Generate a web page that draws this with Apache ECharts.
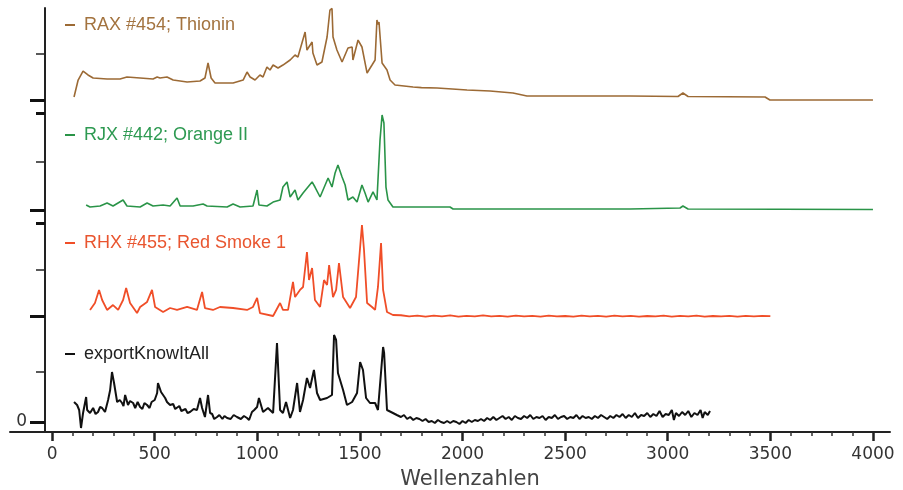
<!DOCTYPE html>
<html><head><meta charset="utf-8">
<script src="https://cdn.jsdelivr.net/npm/echarts@6/dist/echarts.min.js"></script>
<style>html,body{margin:0;padding:0;background:#fff}#c{width:903px;height:490px}</style>
</head><body><div id="c"></div>
<script>
// ---- data ----
const xTickValues = [0, 500, 1000, 1500, 2000, 2500, 3000, 3500, 4000];
const xMinorTickValues = [];
for (let v = 100; v < 4000; v += 100) { if (v % 500 !== 0) xMinorTickValues.push(v); }
const seriesNames = ['RAX #454; Thionin', 'RJX #442; Orange II', 'RHX #455; Red Smoke 1', 'exportKnowItAll'];
const yTickMid = [50];
const yTickBase = [0];
const yTickTop = [100];

const raxThionin = [[107,3.3],[127,21.7],[151,31.5],[175,27.2],[200,23.9],[268,22.8],[331,22.8],[365,25],[429,23.9],[492,22.8],[512,25],[526,23.9],[560,25],[590,21.7],[658,19.6],[721,20.7],[745,23.9],[760,40.2],[775,23.9],[794,18.5],[882,18.5],[931,21.7],[950,30.4],[965,25],[989,21.7],[1013,27.2],[1028,25],[1047,35.9],[1062,32.6],[1077,38],[1101,34.8],[1125,38],[1160,43.5],[1184,48.9],[1198,46.7],[1233,73.9],[1242,54.3],[1267,63],[1271,51.1],[1291,38],[1315,41.3],[1340,68.5],[1354,97.8],[1364,99.5],[1369,68.5],[1388,54.3],[1413,41.3],[1442,56.5],[1462,57.6],[1466,43.5],[1491,65.2],[1510,57.6],[1535,29.3],[1559,38],[1574,43.5],[1583,87],[1588,82],[1593,84.8],[1608,40.2],[1632,32.6],[1647,21.7],[1671,16.3],[1759,14.1],[1800,13.5],[1876,13],[1950,12],[2022,10.9],[2134,9.8],[2246,7.6],[2314,4.3],[2600,4.3],[2816,4.3],[3050,3.8],[3074,7.6],[3099,3.8],[3474,3.3],[3498,0],[4000,0]];

const rjxOrange = [[166,5.2],[185,3.1],[234,4.1],[268,7.2],[297,4.1],[346,10.3],[365,4.1],[429,3.1],[463,7.2],[492,4.1],[541,5.2],[575,4.1],[609,12.4],[624,4.1],[687,4.1],[736,6.2],[755,4.1],[853,3.1],[882,6.2],[916,3.1],[979,4.1],[999,20.6],[1008,5.2],[1047,4.1],[1077,8.2],[1111,10.3],[1125,23.7],[1145,28.9],[1160,13.4],[1184,20.6],[1198,10.3],[1223,17.5],[1267,28.9],[1281,23.7],[1306,13.4],[1345,33],[1364,23.7],[1379,38.1],[1393,46.4],[1413,34],[1428,25.8],[1442,10.3],[1466,13.4],[1486,8.2],[1510,25.8],[1525,17.5],[1540,8.2],[1564,18.6],[1583,10.3],[1598,72.2],[1608,97.9],[1617,89.7],[1627,23.7],[1637,10.3],[1661,3.1],[1939,3.1],[1954,1],[2816,1],[3060,2.1],[3074,4.1],[3099,1],[4000,0.5]];

const rhxRedSmoke = [[185,6.5],[209,14],[229,28],[244,17.2],[268,6.5],[297,11.8],[322,6.5],[346,17.2],[361,30.1],[380,14],[414,3.2],[429,9.7],[463,15.1],[487,28],[502,9.7],[541,4.3],[575,8.6],[609,6.5],[658,9.7],[706,6.5],[731,25.8],[745,8.6],[784,6.5],[818,9.7],[882,8.6],[950,6.5],[979,9.7],[999,19.4],[1013,3.2],[1077,0],[1111,14],[1125,6.5],[1150,6.5],[1174,36.6],[1184,20.4],[1208,28],[1223,31.2],[1242,68.8],[1252,38.7],[1267,51.6],[1281,17.2],[1306,9.7],[1325,38.7],[1340,33.3],[1350,54.8],[1369,20.4],[1384,28],[1398,57],[1418,20.4],[1452,8.6],[1481,20.4],[1510,97.8],[1520,71],[1535,14],[1559,9.7],[1574,6.5],[1588,31.2],[1603,78.5],[1613,28],[1632,4.3],[1661,1.1],[1700,0.8],[1740,-0.4],[1780,0.5],[1820,-0.6],[1860,0.3],[1900,-0.5],[1940,0.6],[1980,-0.7],[2020,0.2],[2060,-0.4],[2100,0.7],[2140,-0.5],[2180,0.1],[2220,-0.7],[2260,0.4],[2300,-0.4],[2340,0.2],[2380,-0.6],[2420,0.5],[2460,-0.5],[2500,0],[2540,-0.7],[2580,0.3],[2620,-0.4],[2660,0.1],[2700,-0.6],[2740,0.4],[2780,-0.5],[2820,0.2],[2860,-0.7],[2900,0],[2940,-0.5],[2980,0.3],[3020,-0.6],[3060,0.1],[3100,-0.4],[3140,0.4],[3180,-0.7],[3220,0],[3260,-0.5],[3300,0.2],[3340,-0.6],[3380,0.1],[3420,-0.4],[3460,0.2],[3500,-0.2]];

const exportKnowItAll = [[107,20],[122,17],[132,12],[141,-6],[151,9],[166,25],[171,12],[185,9],[200,14],[212,8],[224,10],[234,15],[244,14],[258,10],[273,22],[283,32],[292,50],[302,39],[317,20],[330,22],[341,19],[348,16],[356,27],[370,17],[380,21],[395,19],[405,14],[417,20],[429,15],[440,13],[450,19],[463,17],[475,14],[485,20],[492,19],[500,22],[512,29],[516,39],[531,30],[551,24],[560,20],[575,17],[590,18],[600,13],[609,15],[620,16],[630,11],[638,12],[650,13],[660,9],[672,10],[690,13],[706,12],[721,24],[731,14],[745,5],[760,27],[770,9],[780,8],[790,3],[804,5],[815,7],[830,3],[840,6],[853,4],[870,3],[885,7],[901,5],[920,3],[935,6],[950,4],[960,2],[974,10],[985,12],[999,15],[1008,24],[1028,10],[1052,14],[1077,9],[1096,79],[1111,12],[1125,9],[1140,20],[1160,4],[1174,12],[1194,39],[1208,10],[1223,22],[1242,44],[1257,34],[1276,52],[1291,29],[1306,22],[1340,24],[1364,27],[1374,87],[1384,82],[1393,49],[1418,32],[1437,17],[1462,20],[1486,29],[1501,60],[1515,52],[1530,24],[1549,19],[1574,19],[1588,12],[1613,75],[1618,69],[1632,12],[1661,9],[1680,7],[1700,5],[1715,7],[1730,3],[1745,5],[1760,2],[1775,4],[1790,3],[1805,1],[1820,3],[1835,0],[1850,1],[1865,-1],[1880,2],[1895,0],[1910,-1],[1925,1],[1940,-1],[1955,1],[1970,0],[1985,-2],[2000,1],[2015,-1],[2030,2],[2045,0],[2060,2],[2075,1],[2090,3],[2105,1],[2120,4],[2135,2],[2150,5],[2165,2],[2180,4],[2195,6],[2210,3],[2225,5],[2240,2],[2255,6],[2270,4],[2285,3],[2300,6],[2315,4],[2330,7],[2345,3],[2360,5],[2375,4],[2390,6],[2405,2],[2420,5],[2435,4],[2450,7],[2465,3],[2480,5],[2495,6],[2510,3],[2525,5],[2540,4],[2555,7],[2570,3],[2585,6],[2600,4],[2615,5],[2630,3],[2645,6],[2660,4],[2675,7],[2690,5],[2705,3],[2720,6],[2735,4],[2750,7],[2765,5],[2780,8],[2795,4],[2810,7],[2825,5],[2840,9],[2855,4],[2870,7],[2885,6],[2900,9],[2915,5],[2930,8],[2945,6],[2960,11],[2975,5],[2990,8],[3005,7],[3020,12],[3030,2],[3040,9],[3055,6],[3070,10],[3085,7],[3100,11],[3115,5],[3130,9],[3145,7],[3160,12],[3170,4],[3180,10],[3195,7],[3206,11]];

// ---- styling / layout ----
const lineColors = ['#9c6a35', '#2a9448', '#f04e28', '#111111'];
const textColors = ['#a3733f', '#2e9a52', '#e9552f', '#222222'];
const lineWidths = [1.6, 1.6, 1.8, 2];
const gridTops = [8, 113, 223, 322];
const gridHeights = [105, 110, 99, 110];
const yMins = [-14.13, -13.4, -6.45, -10];
const legendTops = [15, 125, 233, 344];
const allData = [raxThionin, rjxOrange, rhxRedSmoke, exportKnowItAll];
const X_MIN = -205, X_MAX = 4083;

const grid = gridTops.map((t, i) => ({ left: 10, right: 13, top: t, height: gridHeights[i], containLabel: false, outerBoundsMode: 'none' }));

const xAxis = [];
for (let i = 0; i < 4; i++) {
  xAxis.push({
    gridIndex: i, type: 'value', min: X_MIN, max: X_MAX, position: 'bottom',
    show: i === 3,
    axisLine: { show: i === 3, onZero: false, lineStyle: { color: '#222', width: 2 } },
    axisTick: { show: i === 3, customValues: xTickValues, length: 9, lineStyle: { color: '#222', width: 2.5 } },
    axisLabel: { show: i === 3, customValues: xTickValues, formatter: v => String(v), margin: 13, fontSize: 17, fontFamily: 'DejaVu Sans', color: '#333', lineHeight: 20 },
    splitLine: { show: false },
    name: i === 3 ? 'Wellenzahlen' : '',
    nameLocation: 'middle', nameGap: 37,
    nameTextStyle: { fontSize: 21, fontFamily: 'DejaVu Sans', color: '#444', padding: [0, 0, 0, 40] }
  });
}
xAxis.push({
  gridIndex: 3, type: 'value', min: X_MIN, max: X_MAX, position: 'bottom',
  axisLine: { show: false, onZero: false },
  axisTick: { show: true, customValues: xMinorTickValues, length: 4, lineStyle: { color: '#333', width: 1.5 } },
  axisLabel: { show: false, customValues: xMinorTickValues },
  splitLine: { show: false }
});

const yAxis = [];
const mainY = [];
for (let i = 0; i < 4; i++) {
  mainY.push(yAxis.length);
  yAxis.push({
    gridIndex: i, type: 'value', position: 'left', offset: -35, min: yMins[i], max: 100,
    axisLine: { show: true, onZero: false, lineStyle: { color: '#222', width: 2 } },
    axisTick: { show: true, customValues: yTickMid, length: 9, lineStyle: { color: '#222', width: 1.5 } },
    axisLabel: { show: false, customValues: yTickMid },
    splitLine: { show: false }
  });
  yAxis.push({
    gridIndex: i, type: 'value', position: 'left', offset: -35, min: yMins[i], max: 100,
    axisLine: { show: false, onZero: false },
    axisTick: { show: true, customValues: yTickBase, length: 15, lineStyle: { color: '#111', width: 3 } },
    axisLabel: { show: i === 3, customValues: yTickBase, margin: 18, fontSize: 17, fontFamily: 'DejaVu Sans', color: '#333' },
    splitLine: { show: false }
  });
  if (i === 1 || i === 2) {
    yAxis.push({
      gridIndex: i, type: 'value', position: 'left', offset: -35, min: yMins[i], max: 100,
      axisLine: { show: false, onZero: false },
      axisTick: { show: true, customValues: yTickTop, length: 9, lineStyle: { color: '#111', width: 3 } },
      axisLabel: { show: false, customValues: yTickTop },
      splitLine: { show: false }
    });
  }
}

const series = allData.map((d, i) => ({
  name: seriesNames[i], type: 'line', data: d,
  xAxisIndex: i, yAxisIndex: mainY[i],
  showSymbol: false, symbol: 'none', clip: true,
  lineStyle: { color: lineColors[i], width: lineWidths[i] },
  itemStyle: { color: lineColors[i] }
}));

const legend = seriesNames.map((n, i) => ({
  data: [{ name: n, textStyle: { color: textColors[i] } }],
  left: 65, top: legendTops[i], icon: 'rect', itemWidth: 10, itemHeight: 2,
  selectedMode: false, padding: 0,
  textStyle: { fontSize: 18, fontFamily: 'Liberation Sans, Arial, sans-serif', lineHeight: 20, padding: [0, 0, 0, 4] }
}));

const chart = echarts.init(document.getElementById('c'), null, { renderer: 'canvas' });
chart.setOption({
  backgroundColor: '#fff', animation: false,
  grid, xAxis, yAxis, series, legend
});
</script></body></html>
